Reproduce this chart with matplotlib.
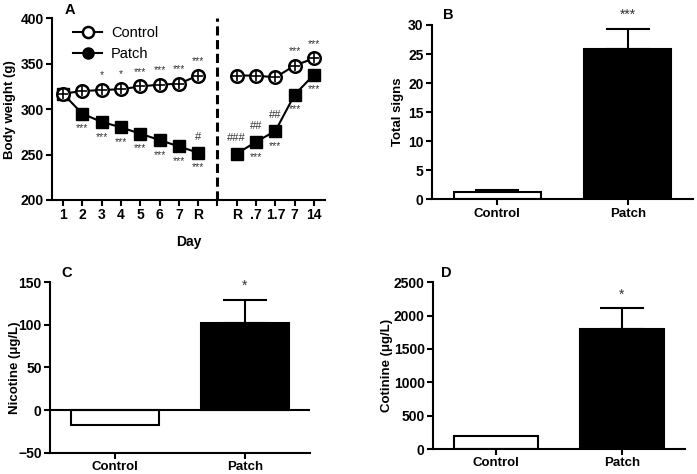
import matplotlib
matplotlib.use("Agg")
import matplotlib.pyplot as plt
from matplotlib.lines import Line2D

plt.rcParams['font.family'] = ['Liberation Sans', 'DejaVu Sans']

# Datos panel A (peso corporal)
dias_izq = ['1', '2', '3', '4', '5', '6', '7', 'R']
dias_der = ['R', '.7', '1.7', '7', '14']
control_izq = [317, 320, 321, 322, 325, 327, 328, 337]
control_der = [337, 337, 335, 348, 356]
patch_izq = [317, 295, 286, 280, 273, 266, 259, 252]
patch_der = [251, 264, 276, 316, 338]
sig_control_izq = ['', '', '*', '*', '***', '***', '***', '***']
sig_control_der = ['', '', '', '***', '***']
sig_patch_izq = ['', '***', '***', '***', '***', '***', '***', '***']
sig_patch_der = ['', '***', '***', '***', '***']
hash_patch_izq = ['', '', '', '', '', '', '', '#']
hash_patch_der = ['###', '##', '##', '', '']

# Datos paneles B, C, D
grupos = ['Control', 'Patch']
signos = [1.2, 25.8]
signos_err = [0.35, 3.5]
nicotina = [-18, 102]
nicotina_err = [0, 27]
cotinina = [200, 1800]
cotinina_err = [0, 310]
sig_b, sig_c, sig_d = '***', '*', '*'

LW = 1.5
fig = plt.figure(figsize=(6.97, 4.74), dpi=100)


def estilo(ax):
    for s in ['top', 'right']:
        ax.spines[s].set_visible(False)
    for s in ['left', 'bottom']:
        ax.spines[s].set_linewidth(LW)
    ax.tick_params(width=LW, length=4, labelsize=10, pad=2)
    for lab in ax.get_xticklabels() + ax.get_yticklabels():
        lab.set_fontweight('bold')


# ---- Panel A ----
ax = fig.add_axes([0.0746, 0.5781, 0.3917, 0.3832])
x_izq = list(range(1, len(dias_izq) + 1))
x_der = list(range(len(dias_izq) + 2, len(dias_izq) + 2 + len(dias_der)))

for xs, cy, py in [(x_izq, control_izq, patch_izq), (x_der, control_der, patch_der)]:
    ax.plot(xs, py, '-', color='black', lw=LW, marker='s', ms=8, mfc='black', mec='black', zorder=3)
    ax.plot(xs, cy, '-', color='black', lw=LW, marker='o', ms=9, mfc='white', mec='black', mew=1.8, zorder=4)
    ax.plot(xs, cy, ' ', marker='+', ms=7, mec='black', mew=1.2, zorder=5)

ax.axvline(len(dias_izq) + 1, color='black', lw=2.2, ls=(0, (3, 1.5)), ymin=0, ymax=1)

star_kw = dict(ha='center', fontsize=7.5, color='#333333', textcoords='offset points')
for xs, cy, py, sc, sp, hp in [(x_izq, control_izq, patch_izq, sig_control_izq, sig_patch_izq, hash_patch_izq),
                               (x_der, control_der, patch_der, sig_control_der, sig_patch_der, hash_patch_der)]:
    for x, c, p, a, b, h in zip(xs, cy, py, sc, sp, hp):
        if a:
            ax.annotate(a, (x, c), xytext=(0, 7), va='bottom', **star_kw)
        if b:
            ax.annotate(b, (x, p), xytext=(0, -7), va='top', **star_kw)
        if h:
            ax.annotate(h, (x, p), xytext=(0, 8), va='bottom', ha='center', fontsize=8,
                        color='#333333', textcoords='offset points')

ax.set_xlim(0.43, 14.57)
ax.set_ylim(200, 400)
ax.set_yticks([200, 250, 300, 350, 400])
ax.set_xticks(x_izq + [len(dias_izq) + 1] + x_der)
ax.set_xticklabels(dias_izq + [''] + dias_der)
ax.set_ylabel('Body weight (g)', fontsize=9.5, fontweight='bold')
ax.yaxis.set_label_coords(-0.132, 0.5)
ax.set_xlabel('Day', fontsize=10, fontweight='bold', labelpad=9)
estilo(ax)

handles = [Line2D([], [], color='black', lw=LW, marker='o', ms=8, mfc='white', mec='black', mew=1.8),
           Line2D([], [], color='black', lw=LW, marker='o', ms=8, mfc='black', mec='black')]
ax.legend(handles, ['Control', 'Patch'], loc='upper left', bbox_to_anchor=(0.03, 1.03), frameon=False,
          fontsize=10.5, handlelength=2.0, handletextpad=0.6, labelspacing=0.5)
fig.text(70 / 697, 1 - 10 / 474, 'A', fontsize=10.5, fontweight='bold', ha='center', va='center')


# ---- Paneles de barras ----
def barras(pos, valores, errores, ylim, yticks, ylabel, label_x, sig, letra, letra_xy, cero=False):
    ax = fig.add_axes(pos)
    xs = [0, 1]
    ax.bar(xs, valores, width=0.67, color=['white', 'black'], edgecolor='black', linewidth=LW, zorder=2)
    for x, v, e in zip(xs, valores, errores):
        if e:
            ax.errorbar(x, v, yerr=[[0], [e]], color='black', elinewidth=LW, capsize=16,
                        capthick=LW, zorder=1)
    top = valores[1] + errores[1]
    ax.annotate(sig, (1, top), xytext=(0, 5), textcoords='offset points', ha='center',
                va='bottom', fontsize=10, color='#333333')
    if cero:
        ax.axhline(0, color='black', lw=LW, zorder=3)
    ax.set_xlim(-0.5, 1.5)
    ax.set_ylim(*ylim)
    ax.set_yticks(yticks)
    ax.set_xticks(xs)
    ax.set_xticklabels(grupos)
    ax.set_ylabel(ylabel, fontsize=9.5, fontweight='bold')
    ax.yaxis.set_label_coords(label_x, 0.5)
    estilo(ax)
    for lab in ax.get_xticklabels():
        lab.set_fontsize(9.5)
    fig.text(letra_xy[0] / 697, 1 - letra_xy[1] / 474, letra, fontsize=10.5, fontweight='bold',
             ha='center', va='center')
    return ax


barras([0.6198, 0.5795, 0.3745, 0.3678], signos, signos_err, (0, 30), [0, 5, 10, 15, 20, 25, 30],
       'Total signs', -0.107, sig_b, 'B', (448, 15))
barras([0.0717, 0.045, 0.373, 0.3594], nicotina, nicotina_err, (-50, 150), [-50, 0, 50, 100, 150],
       'Nicotine (\u03bcg/L)', -0.112, sig_c, 'C', (67, 273), cero=True)
barras([0.6212, 0.0527, 0.3616, 0.3517], cotinina, cotinina_err, (0, 2500), [0, 500, 1000, 1500, 2000, 2500],
       'Cotinine (\u03bcg/L)', -0.159, sig_d, 'D', (446, 273))

fig.savefig('out.png', dpi=100)
